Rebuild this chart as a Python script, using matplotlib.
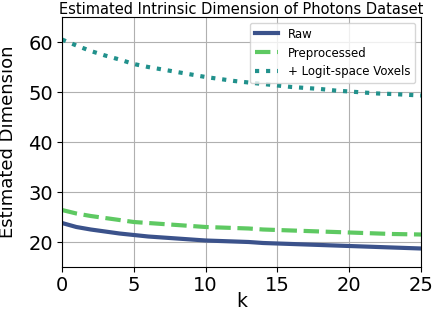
import numpy as np
import matplotlib
matplotlib.use("Agg")
import matplotlib.pyplot as plt

k = list(range(26))
raw = [23.8, 23.0, 22.5, 22.1, 21.7, 21.4, 21.1, 20.9, 20.7, 20.5, 20.3, 20.2, 20.1,
       20.0, 19.8, 19.7, 19.6, 19.5, 19.4, 19.3, 19.2, 19.1, 19.0, 18.9, 18.8, 18.7]
preprocessed = [26.4, 25.7, 25.2, 24.8, 24.4, 24.0, 23.8, 23.6, 23.4, 23.2, 23.0, 22.9, 22.8,
                22.7, 22.5, 22.4, 22.3, 22.2, 22.1, 22.0, 21.9, 21.8, 21.7, 21.6, 21.55, 21.5]
logit = [60.5, 59.3, 58.2, 57.3, 56.5, 55.6, 55.0, 54.5, 54.0, 53.5, 53.0, 52.6, 52.2,
         51.9, 51.6, 51.3, 51.0, 50.8, 50.6, 50.3, 50.1, 49.9, 49.7, 49.6, 49.45, 49.3]

fig = plt.figure(figsize=(4.35, 3.12), dpi=100)
ax = fig.add_axes([62 / 435, 1 - 267 / 312, 359 / 435, 250 / 312])

ax.plot(k, raw, '-', color='#3b528b', lw=3, label='Raw')
ax.plot(k, preprocessed, '--', color='#5ec962', lw=3, label='Preprocessed')
ax.plot(k, logit, ':', color='#21918c', lw=3, label='+ Logit-space Voxels')

ax.set_xlim(0, 25)
ax.set_ylim(15, 65)
ax.set_xticks([0, 5, 10, 15, 20, 25])
ax.set_yticks([20, 30, 40, 50, 60])
ax.tick_params(labelsize=14, pad=3)
ax.set_xlabel('k', fontsize=13.5, labelpad=-2)
ax.set_ylabel('Estimated Dimension', fontsize=13, labelpad=8)
ax.set_title('Estimated Intrinsic Dimension of Photons Dataset', fontsize=10.5, pad=2)
ax.grid(True)
ax.legend(fontsize=8.5, loc='upper right')

fig.savefig('out.png', dpi=100)
